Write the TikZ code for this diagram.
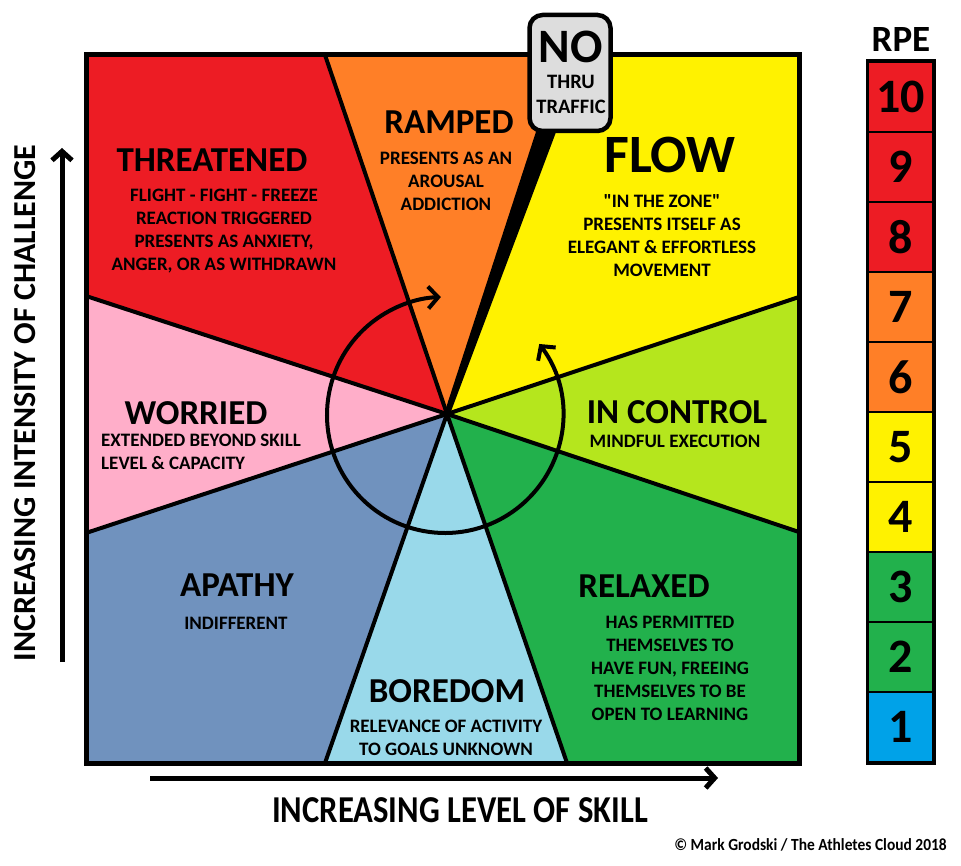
\documentclass[tikz,border=0pt]{standalone}
\usepackage{fontspec}
\setmainfont{Carlito}
\usetikzlibrary{arrows.meta,calc}
\definecolor{pred}{HTML}{ED1C24}
\definecolor{porange}{HTML}{FF7F27}
\definecolor{pyellow}{HTML}{FFF200}
\definecolor{plime}{HTML}{B5E61D}
\definecolor{pgreen}{HTML}{22B14C}
\definecolor{plblue}{HTML}{99D9EA}
\definecolor{pslate}{HTML}{7092BE}
\definecolor{ppink}{HTML}{FFAEC9}
\definecolor{pblue}{HTML}{00A2E8}
\definecolor{psign}{HTML}{DDDDDD}
\begin{document}
\begin{tikzpicture}[x=1pt,y=-1pt,
  title/.style={font=\fontsize{35}{35}\selectfont\bfseries, inner sep=0pt},
  sub/.style={font=\fontsize{19}{23}\selectfont\bfseries, align=center, inner sep=0pt},
  seg/.style={line width=4pt, line cap=round},
  barb/.style={-{Straight Barb[length=9pt,width=20pt]}},
  rpecell/.style={draw, line width=2pt, minimum width=65pt, minimum height=70pt, inner sep=0pt, font=\fontsize{48}{48}\selectfont\bfseries}]
\useasboundingbox (0,0) rectangle (961,866);
\fill[white] (0,0) rectangle (961,866);
% points
\coordinate (C) at (447,414);
\coordinate (TL) at (86,55);
\coordinate (TR) at (799,55);
\coordinate (BR) at (799,763);
\coordinate (BL) at (86,763);
\coordinate (p1) at (325,55);
\coordinate (p2) at (573,55);
\coordinate (p3) at (799,297);
\coordinate (p4) at (799,532);
\coordinate (p5) at (567,763);
\coordinate (p6) at (325,763);
\coordinate (p7) at (86,533);
\coordinate (p8) at (86,296);
% sectors
\fill[pred] (C) -- (p8) -- (TL) -- (p1) -- cycle;
\fill[porange] (C) -- (p1) -- (p2) -- cycle;
\fill[pyellow] (C) -- (p2) -- (TR) -- (p3) -- cycle;
\fill[plime] (C) -- (p3) -- (p4) -- cycle;
\fill[pgreen] (C) -- (p4) -- (BR) -- (p5) -- cycle;
\fill[plblue] (C) -- (p5) -- (p6) -- cycle;
\fill[pslate] (C) -- (p6) -- (BL) -- (p7) -- cycle;
\fill[ppink] (C) -- (p7) -- (p8) -- cycle;
% boundaries
\foreach \p in {p1,p3,p4,p5,p6,p7,p8} \draw[seg] (C) -- (\p);
\fill (444,414) -- (561,55) -- (585,55) -- (450,414) -- cycle;
\draw[line width=5pt] (TL) rectangle (BR);
% cycle arc
\coordinate (O) at (445,415);
\draw[line width=4pt, {Straight Barb[length=10pt,width=22pt]}-{Straight Barb[length=10pt,width=22pt]}]
  ($(O)+(-37:118)$) arc[start angle=-37, end angle=268, radius=118];
% sign
\node[draw, line width=4.5pt, fill=psign, rounded corners=13pt, minimum width=81pt, minimum height=116pt, inner sep=0pt] (sign) at (570,73) {};
\node[font=\fontsize{48}{48}\selectfont\bfseries, inner sep=0pt] (no) at (571,47) {NO};
\node[font=\fontsize{20.5}{20.5}\selectfont\bfseries, inner sep=0pt] (thru) at (571,82) {THRU};
\node[font=\fontsize{20.5}{20.5}\selectfont\bfseries, inner sep=0pt] (traffic) at (571,107) {TRAFFIC};
% titles
\node[title] (threat) at (212,160) {THREATENED};
\node[sub] (threatS) at (224,231) {FLIGHT - FIGHT - FREEZE\\REACTION TRIGGERED\\PRESENTS AS ANXIETY,\\ANGER, OR AS WITHDRAWN};
\node[title] (ramped) at (449,122) {RAMPED};
\node[sub] (rampedS) at (446,181) {PRESENTS AS AN\\AROUSAL\\ADDICTION};
\node[title, font=\fontsize{54}{54}\selectfont\bfseries] (flow) at (670,155) {FLOW};
\node[sub] (flowS) at (662,236) {\textquotedbl IN THE ZONE\textquotedbl\\PRESENTS ITSELF AS\\ELEGANT \& EFFORTLESS\\MOVEMENT};
\node[title] (worried) at (196,413) {WORRIED};
\node[sub, align=left, anchor=west] (worriedS) at (101,452) {EXTENDED BEYOND SKILL\\LEVEL \& CAPACITY};
\node[title] (control) at (677,412) {IN CONTROL};
\node[sub] (controlS) at (675,441) {MINDFUL EXECUTION};
\node[title] (apathy) at (237,585) {APATHY};
\node[sub] (apathyS) at (236,623) {INDIFFERENT};
\node[title] (boredom) at (447,691) {BOREDOM};
\node[sub] (boredomS) at (446,738) {RELEVANCE OF ACTIVITY\\TO GOALS UNKNOWN};
\node[title] (relaxed) at (644,586) {RELAXED};
\node[sub] (relaxedS) at (670,668) {HAS PERMITTED\\THEMSELVES TO\\HAVE FUN, FREEING\\THEMSELVES TO BE\\OPEN TO LEARNING};
% axes
\coordinate (ya) at (62,662);
\coordinate (yb) at (62,148);
\draw[line width=5pt, barb] (ya) -- (yb);
\coordinate (xa) at (150,778);
\coordinate (xb) at (718,778);
\draw[line width=5pt, barb] (xa) -- (xb);
\node[rotate=90, font=\fontsize{32}{32}\selectfont\bfseries, inner sep=0pt] (ylab) at (25,403) {INCREASING INTENSITY OF CHALLENGE};
\node[font=\fontsize{38}{38}\selectfont\bfseries, inner sep=0pt] (xlab) at (460,810) {\scalebox{0.86}[1]{INCREASING LEVEL OF SKILL}};
\node[anchor=east, font=\fontsize{17}{17}\selectfont\bfseries, inner sep=0pt] (copy) at (947,845) {\scalebox{0.91}[1]{© Mark Grodski / The Athletes Cloud 2018}};
% RPE
\node[font=\fontsize{37}{37}\selectfont\bfseries, inner sep=0pt] (rpe) at (901,40) {RPE};
\foreach \n/\c [count=\k from 0] in {10/pred,9/pred,8/pred,7/porange,6/porange,5/pyellow,4/pyellow,3/pgreen,2/pgreen,1/pblue}
  \node[rpecell, fill=\c] (r\n) at (900.5,97+70*\k) {\n};
\draw[line width=3pt] (r10.north west) rectangle (r1.south east);
\end{tikzpicture}
\end{document}
